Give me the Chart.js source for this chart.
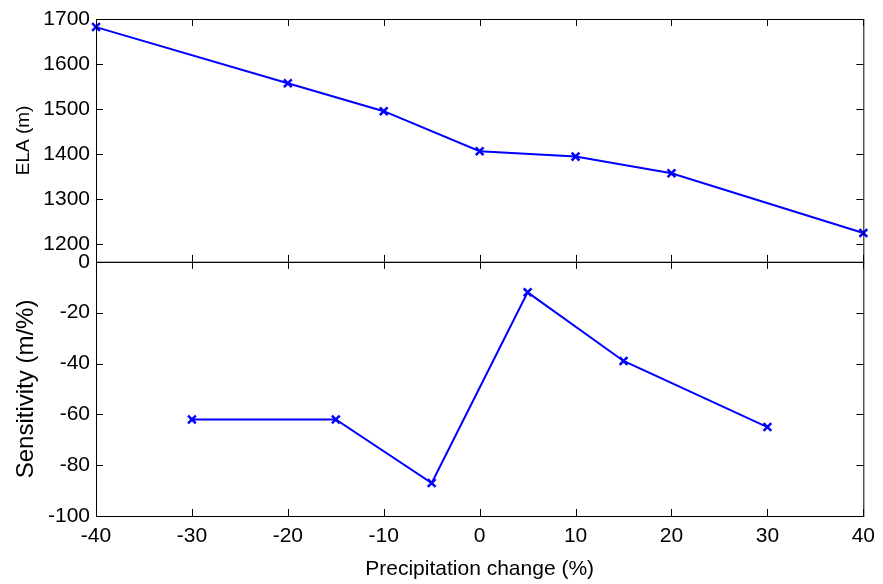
<!DOCTYPE html>
<html>
<head>
<meta charset="utf-8">
<script src="https://cdn.jsdelivr.net/npm/chart.js@4.4.1/dist/chart.umd.min.js"></script>
<style>
  body { margin: 0; background: #fff; }
  #wrap { width: 883px; height: 584px; position: relative; }
</style>
</head>
<body>
<div id="wrap"><canvas id="elaChart"></canvas></div>
<script>
// precipitation change steps and the resulting ELA
const precipChange = [-40, -20, -10, 0, 10, 20, 40];
const elaValues = [1682, 1557, 1495, 1406, 1394, 1357, 1224];

// sensitivity between neighbouring steps, plotted at interval midpoints
const sensMid = [-30, -15, -5, 5, 15, 30];
const sensValues = [-62, -62, -87, -12, -39, -65];

const xTicks = [-40, -30, -20, -10, 0, 10, 20, 30, 40];
const elaTicks = [1200, 1300, 1400, 1500, 1600, 1700];
const sensTicks = [-100, -80, -60, -40, -20, 0];

Chart.defaults.font.family = '"Liberation Sans", Arial, sans-serif';
Chart.defaults.color = '#000';

const toPoints = (xs, ys) => xs.map((x, i) => ({ x: x, y: ys[i] }));
const fixedTicks = list => s => { s.ticks = list.map(v => ({ value: v })); };

// box frame with inward ticks on every side of both panels
const frameTicks = {
  id: 'frameTicks',
  afterDraw(chart) {
    const ctx = chart.ctx;
    const x = chart.scales.x;
    const panels = [chart.scales.yEla, chart.scales.ySens];
    const len = 7;
    ctx.save();
    ctx.strokeStyle = '#000';
    ctx.lineWidth = 1;
    const line = (x1, y1, x2, y2) => {
      ctx.beginPath();
      ctx.moveTo(x1, y1);
      ctx.lineTo(x2, y2);
      ctx.stroke();
    };
    panels.forEach(s => {
      ctx.strokeRect(x.left + 0.5, s.top + 0.5, x.right - x.left, s.bottom - s.top);
      x.ticks.forEach(t => {
        const px = Math.round(x.getPixelForValue(t.value)) + 0.5;
        line(px, s.top, px, s.top + len);
        line(px, s.bottom, px, s.bottom - len);
      });
      s.ticks.forEach(t => {
        const py = Math.round(s.getPixelForValue(t.value)) + 0.5;
        line(x.left, py, x.left + len, py);
        line(x.right, py, x.right - len, py);
      });
    });
    ctx.restore();
  }
};

const lineStyle = {
  borderColor: '#0000ff',
  backgroundColor: '#0000ff',
  borderWidth: 2,
  pointStyle: 'crossRot',
  pointRadius: 5.5,
  pointBorderWidth: 2.5,
  tension: 0,
  clip: false
};

const tickFont = { size: 21 };

new Chart(document.getElementById('elaChart'), {
  type: 'line',
  data: {
    datasets: [
      Object.assign({ label: 'ELA', data: toPoints(precipChange, elaValues), yAxisID: 'yEla' }, lineStyle),
      Object.assign({ label: 'Sensitivity', data: toPoints(sensMid, sensValues), yAxisID: 'ySens' }, lineStyle)
    ]
  },
  options: {
    responsive: true,
    maintainAspectRatio: false,
    animation: false,
    layout: { padding: { top: 19, right: 17, left: 0, bottom: 0 } },
    plugins: { legend: { display: false }, tooltip: { enabled: false } },
    scales: {
      x: {
        type: 'linear',
        min: -40,
        max: 40,
        afterBuildTicks: fixedTicks(xTicks),
        afterFit: s => { s.height = 68; },
        grid: { display: false, drawTicks: false },
        border: { display: false },
        ticks: { font: tickFont, padding: 8, autoSkip: false, callback: v => String(v) },
        title: { display: true, text: 'Precipitation change (%)', font: { size: 21 }, padding: { top: 0, bottom: 2 } }
      },
      // stacked panels: the first listed sits at the bottom
      ySens: {
        type: 'linear',
        position: 'left',
        stack: 'panels',
        stackWeight: 254,
        min: -100,
        max: 0,
        afterBuildTicks: fixedTicks(sensTicks),
        afterFit: s => { s.width = 96; },
        grid: { display: false, drawTicks: false },
        border: { display: false },
        ticks: { font: tickFont, padding: 6, autoSkip: false, callback: v => String(v) },
        title: { display: true, text: 'Sensitivity (m/%)', font: { size: 24 }, padding: { top: 12, bottom: 0 } }
      },
      yEla: {
        type: 'linear',
        position: 'left',
        stack: 'panels',
        stackWeight: 242.7,
        min: 1160,
        max: 1700,
        afterBuildTicks: fixedTicks(elaTicks),
        afterFit: s => { s.width = 96; },
        grid: { display: false, drawTicks: false },
        border: { display: false },
        ticks: { font: tickFont, padding: 6, autoSkip: false, callback: v => String(v) },
        title: { display: true, text: 'ELA (m)', font: { size: 19 }, padding: { top: 12, bottom: 0 } }
      }
    }
  },
  plugins: [frameTicks]
});
</script>
</body>
</html>
